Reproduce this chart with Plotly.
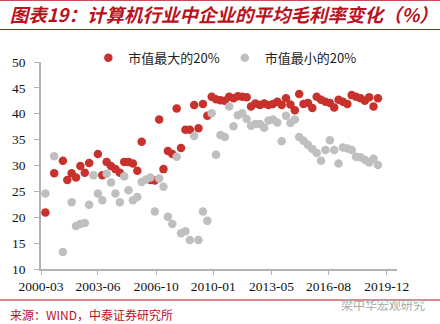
import pandas as pd
import plotly.graph_objects as go

# Quarterly observations, first quarter 2000-06
quarters = pd.date_range("2000-06-01", periods=77, freq="3MS")

top20_margin = [
    20.9, None, 28.5, None, 30.9, 27.2, 28.5, 27.7, 29.9, 28.6,
    30.5, None, 32.2, 28.1, 30.7, 29.9, 29.3, 28.6, 30.7, 30.7,
    30.4, 29.0, 34.6, None, 27.2, 27.1, 38.9, 29.3, 32.8, 32.2,
    41.0, 33.4, 36.9, 36.9, 41.7, 37.2, 41.9, 39.6, 43.3, 42.8,
    42.6, 42.5, 43.3, 43.0, 43.4, 43.3, 43.2, 41.4, 42.0, 41.7,
    42.0, 41.7, 41.9, 42.3, 41.7, 43.0, 41.8, 40.7, 43.8, 41.9,
    42.1, 41.1, 43.3, 42.7, 42.3, 42.1, 41.2, 42.7, 42.3, 41.9,
    43.6, 43.3, 43.0, 42.5, 43.2, 41.4, 43.0,
]

bottom20_margin = [
    24.6, None, 31.8, None, 13.3, None, 22.9, 18.3, 18.7, 18.9,
    22.4, 28.1, 24.6, 23.3, 28.4, 26.7, 24.6, 22.9, 27.9, 25.2,
    23.3, 23.9, 26.8, 27.3, 27.7, 21.1, 27.5, 25.9, 20.1, 18.7,
    31.7, 16.9, 17.3, 15.6, 35.7, 15.6, 21.1, 19.3, 40.1, 32.1,
    35.9, 35.5, 41.4, 37.6, 39.7, 40.1, 39.0, 37.7, 38.0, 38.0,
    37.3, 38.7, 38.9, 38.3, 34.7, 39.6, 38.2, 38.9, 35.5, 34.8,
    34.0, 33.2, 32.4, 30.9, 33.0, 34.9, 33.0, 30.4, 33.5, 33.3,
    33.0, 31.7, 31.6, 31.1, 30.6, 31.3, 30.1,
]

series_names = ["市值最大的20%", "市值最小的20%"]
tick_dates = ["2000-03-01", "2003-06-01", "2006-10-01", "2010-01-01",
              "2013-05-01", "2016-08-01", "2019-12-01"]
tick_labels = ["2000-03", "2003-06", "2006-10", "2010-01",
               "2013-05", "2016-08", "2019-12"]

RED = "#C8312C"
GREY = "#BFBFBF"
DARK_RED = "#B8121C"
AXIS = "#B3B3B3"

fig = go.Figure()
fig.add_trace(go.Scatter(
    x=quarters, y=top20_margin, mode="markers", name=series_names[0],
    marker=dict(color=RED, size=8.5, line=dict(width=0)),
))
fig.add_trace(go.Scatter(
    x=quarters, y=bottom20_margin, mode="markers", name=series_names[1],
    marker=dict(color=GREY, size=8.5, line=dict(width=0)),
))

serif = "Liberation Serif, Times New Roman, serif"
cjk = "Noto Sans CJK SC"

fig.update_layout(
    width=440, height=324,
    margin=dict(l=41, r=43, t=62, b=55),
    paper_bgcolor="white", plot_bgcolor="white",
    showlegend=True,
    legend=dict(
        orientation="h", x=0.133, xanchor="left", y=1.02, yanchor="middle",
        font=dict(family=cjk, size=13, color="#222222"),
        bgcolor="rgba(0,0,0,0)",
        itemclick=False,
    ),
    title=dict(
        text="图表19：计算机行业中企业的平均毛利率变化（%）",
        x=0.022, xref="container", xanchor="left",
        y=0.952, yref="container", yanchor="middle",
        font=dict(family=cjk, size=18.5, color=DARK_RED, weight="bold", style="italic"),
    ),
)

fig.update_xaxes(
    type="date", range=["2000-03-01", "2020-07-03"],
    tickmode="array", tickvals=tick_dates, ticktext=tick_labels,
    showline=True, linecolor=AXIS, linewidth=1.5,
    ticks="outside", ticklen=4, tickcolor=AXIS, tickwidth=1,
    showgrid=False, zeroline=False,
    tickfont=dict(family=serif, size=13.5, color="#111111"),
)
fig.update_yaxes(
    range=[10, 50], dtick=5, tick0=10,
    showline=True, linecolor=AXIS, linewidth=1.5,
    ticks="outside", ticklen=5, tickcolor=AXIS, tickwidth=1,
    ticklabelstandoff=6,
    showgrid=False, zeroline=False,
    tickfont=dict(family=serif, size=13.5, color="#111111"),
)

# Header and footer rules
for y0, w in [(1.2995, 1.5), (1.157, 1.2), (-0.1498, 1.2)]:
    fig.add_shape(type="line", xref="paper", yref="paper",
                  x0=-0.1152, x1=1.1208, y0=y0, y1=y0,
                  line=dict(color=DARK_RED, width=w))

fig.add_annotation(
    text="来源：WIND，中泰证券研究所", xref="paper", yref="paper",
    x=-0.092, y=-0.22, xanchor="left", yanchor="middle", showarrow=False,
    font=dict(family=cjk, size=12, color=DARK_RED),
)
fig.add_annotation(
    text="梁中华宏观研究", xref="paper", yref="paper",
    x=1.085, y=-0.17, xanchor="right", yanchor="middle", showarrow=False,
    font=dict(family=cjk, size=12, color="#A8A8A8"),
)

fig.write_html("out.html")
